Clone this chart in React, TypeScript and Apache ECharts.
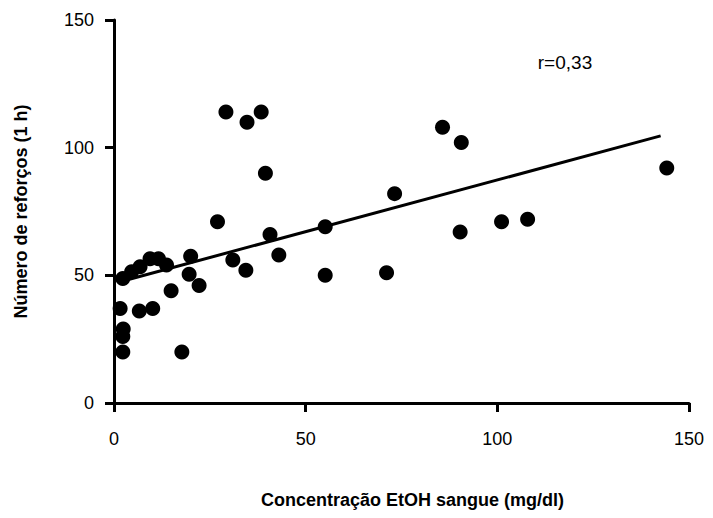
import React, { useEffect, useRef } from "react";
import * as echarts from "echarts";

const ethanol = [29.2, 34.7, 38.4, 39.5, 73.2, 27, 40.7, 55.1, 43, 31, 34.4, 55.1, 71.1, 20, 19.6, 22.2, 14.9, 1.6, 6.6, 10.1, 2.4, 2.3, 2.3, 17.7, 2.3, 4.6, 6.8, 9.4, 11.6, 13.7, 85.7, 90.6, 90.3, 101.1, 107.9, 144.2];
const reinforcements = [114, 110, 114, 90, 82, 71, 66, 69, 58, 56, 52, 50, 51, 57.5, 50.4, 46, 44, 37, 36, 37, 29, 26, 20, 20, 48.8, 51.4, 53.4, 56.5, 56.5, 54, 108, 102, 67, 71, 72, 92];
const fitX = [1.6, 142.6];
const fitY = [47.5, 104.6];
const xTicks = [0, 50, 100, 150];
const yTicks = [0, 50, 100, 150];
const xTitle = "Concentração EtOH sangue (mg/dl)";
const yTitle = "Número de reforços (1 h)";
const rLabel = "r=0,33";

const FONT = "'Liberation Sans', Arial, sans-serif";

export default function App() {
  const ref = useRef<HTMLDivElement>(null);
  useEffect(() => {
    if (!ref.current) return;
    const chart = echarts.init(ref.current, undefined, { renderer: "svg" });
    const axisCommon = {
      axisLine: { show: true, lineStyle: { color: "#000", width: 3 } },
      axisTick: { show: true, length: 9, lineStyle: { color: "#000", width: 3 } },
      splitLine: { show: false },
    };
    chart.setOption({
      animation: false,
      backgroundColor: "#fff",
      grid: { left: 114, right: 24, top: 20, bottom: 115, containLabel: false },
      xAxis: {
        type: "value",
        min: xTicks[0],
        max: xTicks[xTicks.length - 1],
        interval: 50,
        ...axisCommon,
        axisLabel: { color: "#000", fontSize: 18, fontFamily: FONT, margin: 27 },
        name: xTitle,
        nameLocation: "middle",
        nameGap: 88,
        nameTextStyle: { color: "#000", fontSize: 18, fontWeight: "bold", fontFamily: FONT, padding: [0, 0, 0, 22] },
      },
      yAxis: {
        type: "value",
        min: yTicks[0],
        max: yTicks[yTicks.length - 1],
        interval: 50,
        ...axisCommon,
        axisLabel: { color: "#000", fontSize: 18, fontFamily: FONT, margin: 20 },
        name: yTitle,
        nameLocation: "middle",
        nameGap: 84,
        nameTextStyle: { color: "#000", fontSize: 18, fontWeight: "bold", fontFamily: FONT },
      },
      series: [
        {
          type: "scatter",
          data: ethanol.map((x, i) => [x, reinforcements[i]]),
          symbol: "circle",
          symbolSize: 15,
          itemStyle: { color: "#000", opacity: 1 },
          z: 3,
        },
        {
          type: "line",
          data: fitX.map((x, i) => [x, fitY[i]]),
          symbol: "none",
          lineStyle: { color: "#000", width: 3 },
          z: 2,
        },
      ],
      graphic: [
        {
          type: "text",
          x: 565,
          y: 62,
          style: { text: rLabel, fontSize: 19, fontFamily: FONT, fill: "#000", textAlign: "center", textVerticalAlign: "middle" },
        },
      ],
    });
    return () => chart.dispose();
  }, []);
  return <div ref={ref} style={{ position: "fixed", left: 0, top: 0, width: 713, height: 518 }} />;
}
